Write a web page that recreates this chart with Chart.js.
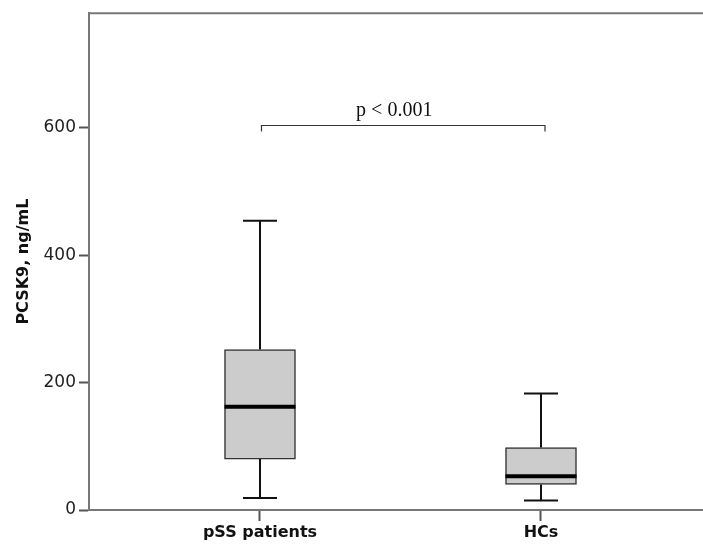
<!DOCTYPE html>
<html>
<head>
<meta charset="utf-8">
<script src="https://cdn.jsdelivr.net/npm/chart.js@4"></script>
<style>
  html, body { margin: 0; padding: 0; background: #fff; }
  #wrap { width: 703px; height: 544px; }
</style>
</head>
<body>
<div id="wrap"><canvas id="boxChart" width="703" height="544"></canvas></div>
<script>
// dados do box plot
const grupos = ["pSS patients", "HCs"];
const minimos = [19, 15];
const quartil1 = [80, 40];
const medianas = [162, 53];
const quartil3 = [252, 98];
const maximos = [454, 183];
const yTicks = [0, 200, 400, 600];
const textoP = "p < 0.001";
const alturaP = 605;

const posicoes = grupos.map((g, i) => i + 1);

// desenha bigodes, medianas, moldura superior e o colchete do p-valor
const boxExtras = {
  id: "boxExtras",
  afterDatasetsDraw(chart) {
    const ctx = chart.ctx;
    const x = chart.scales.x;
    const y = chart.scales.y;
    const area = chart.chartArea;
    ctx.save();

    // linha superior da moldura
    ctx.strokeStyle = "#777";
    ctx.lineWidth = 2;
    ctx.beginPath();
    ctx.moveTo(area.left, area.top);
    ctx.lineTo(area.right, area.top);
    ctx.stroke();

    posicoes.forEach((p, i) => {
      const cx = x.getPixelForValue(p);
      const meiaCaixa = 35.5;
      const meioCap = 17;

      ctx.strokeStyle = "#111";
      ctx.lineWidth = 2;
      ctx.beginPath();
      // bigode superior
      ctx.moveTo(cx, y.getPixelForValue(quartil3[i]));
      ctx.lineTo(cx, y.getPixelForValue(maximos[i]));
      ctx.moveTo(cx - meioCap, y.getPixelForValue(maximos[i]));
      ctx.lineTo(cx + meioCap, y.getPixelForValue(maximos[i]));
      // bigode inferior
      ctx.moveTo(cx, y.getPixelForValue(quartil1[i]));
      ctx.lineTo(cx, y.getPixelForValue(minimos[i]));
      ctx.moveTo(cx - meioCap, y.getPixelForValue(minimos[i]));
      ctx.lineTo(cx + meioCap, y.getPixelForValue(minimos[i]));
      ctx.stroke();

      // mediana
      ctx.strokeStyle = "#000";
      ctx.lineWidth = 4;
      ctx.beginPath();
      ctx.moveTo(cx - meiaCaixa, y.getPixelForValue(medianas[i]));
      ctx.lineTo(cx + meiaCaixa, y.getPixelForValue(medianas[i]));
      ctx.stroke();
    });

    // colchete do p-valor
    const x1 = x.getPixelForValue(posicoes[0]) + 1.5;
    const x2 = x.getPixelForValue(posicoes[1]) + 4;
    const yb = Math.round(y.getPixelForValue(alturaP)) + 0.5;
    ctx.strokeStyle = "#333";
    ctx.lineWidth = 1.2;
    ctx.beginPath();
    ctx.moveTo(x1, yb + 6);
    ctx.lineTo(x1, yb);
    ctx.lineTo(x2, yb);
    ctx.lineTo(x2, yb + 6);
    ctx.stroke();

    ctx.fillStyle = "#111";
    ctx.font = '20px "Liberation Serif", "Times New Roman", serif';
    ctx.textAlign = "center";
    ctx.textBaseline = "alphabetic";
    ctx.fillText(textoP, (x1 + x2) / 2 - 9, yb - 10);
    ctx.restore();
  },
};

const ctx = document.getElementById("boxChart").getContext("2d");
new Chart(ctx, {
  type: "bar",
  data: {
    datasets: [
      {
        label: "IQR",
        data: posicoes.map((p, i) => ({ x: p, y: [quartil1[i], quartil3[i]] })),
        backgroundColor: "#cccccc",
        borderColor: "#333",
        borderWidth: 1.5,
        borderSkipped: false,
        barThickness: 71,
      },
    ],
  },
  options: {
    responsive: false,
    animation: false,
    layout: { padding: { top: 13, right: 0, left: 0, bottom: 0 } },
    plugins: {
      legend: { display: false },
      tooltip: { enabled: false },
    },
    scales: {
      x: {
        type: "linear",
        offset: false,
        min: 0.3915,
        max: 2.5765,
        afterBuildTicks: (scale) => {
          scale.ticks = posicoes.map((p) => ({ value: p }));
        },
        afterFit: (scale) => {
          scale.height = 34;
        },
        grid: {
          offset: false,
          drawOnChartArea: false,
          drawTicks: true,
          tickLength: 11,
          tickWidth: 2,
          tickColor: "#555",
        },
        border: { display: true, color: "#777", width: 2 },
        ticks: {
          autoSkip: false,
          maxRotation: 0,
          padding: 2,
          color: "#111",
          font: { family: "DejaVu Sans", size: 16, weight: "bold" },
          callback: (v) => grupos[v - 1] || "",
        },
      },
      y: {
        min: 0,
        max: 780,
        afterBuildTicks: (scale) => {
          scale.ticks = yTicks.map((v) => ({ value: v }));
        },
        afterFit: (scale) => {
          scale.width = 89;
        },
        grid: {
          drawOnChartArea: false,
          drawTicks: true,
          tickLength: 10,
          tickWidth: 2,
          tickColor: "#555",
        },
        border: { display: true, color: "#777", width: 2 },
        ticks: {
          padding: 3,
          color: "#222",
          font: { family: "DejaVu Sans", size: 17 },
        },
        title: {
          display: true,
          text: "PCSK9, ng/mL",
          color: "#111",
          padding: { top: 14, bottom: 0 },
          font: { family: "DejaVu Sans", size: 16, weight: "bold" },
        },
      },
    },
  },
  plugins: [boxExtras],
});
</script>
</body>
</html>
